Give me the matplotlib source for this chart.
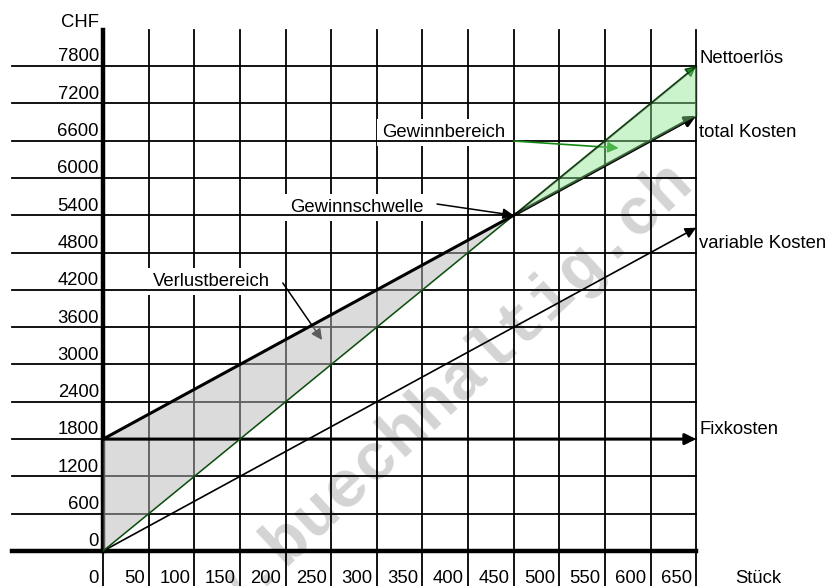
import matplotlib
matplotlib.use('Agg')
import matplotlib.pyplot as plt
import numpy as np

# --- data -----------------------------------------------------------------
units = [0, 450, 650]                 # Stück
revenue = [0, 5400, 7800]             # Nettoerlös
total_cost = [1800, 5400, 7000]       # total Kosten
variable_cost = [0, 3600, 5200]       # variable Kosten
fixed_cost = [1800, 1800, 1800]       # Fixkosten

x_ticks = list(range(0, 651, 50))
y_ticks = list(range(0, 7801, 600))

plt.rcParams['font.family'] = ['Liberation Sans', 'DejaVu Sans']
FS = 13.3

fig = plt.figure(figsize=(8.33, 5.86), dpi=100)
ax = fig.add_axes([0, 0, 1, 1])
ax.set_xlim(-113, 800)
ax.set_ylim(-563, 8863)
ax.axis('off')

# --- grid -------------------------------------------------------------------
for xv in x_ticks[1:]:
    ax.plot([xv, xv], [-563, 8380], color='black', lw=1.3, zorder=1)
ax.plot([0, 0], [-563, 0], color='black', lw=1.3, zorder=1)
ax.plot([0, 0], [0, 8380], color='black', lw=3.2, zorder=3)

for yv in y_ticks[1:]:
    ax.plot([-100, 650], [yv, yv], color='black', lw=1.3, zorder=2)
ax.plot([-100, 650], [0, 0], color='black', lw=3.2, zorder=3)

# --- tick labels ------------------------------------------------------------
for xv in x_ticks:
    ax.text(xv - 4.5, -515, str(xv), ha='right', va='baseline', fontsize=FS)
for yv in y_ticks:
    ax.text(-4.5, yv + 75, str(yv), ha='right', va='baseline', fontsize=FS)
ax.text(-4.5, 8428, 'CHF', ha='right', va='baseline', fontsize=FS)
ax.text(693, -515, 'Stück', ha='left', va='baseline', fontsize=FS)

# --- watermark (runs off the lower edge like in the original) ---------------
ax.text(348, 2107, 'www.buechhaltig.ch', rotation=43, rotation_mode='anchor',
        ha='center', va='center', fontsize=48, family='Liberation Mono',
        weight='bold', color='#d4d4d4', zorder=0.5)

# --- shaded areas -----------------------------------------------------------
ax.fill_between(units[:2], revenue[:2], total_cost[:2], color='#b8b8b8',
                alpha=0.5, lw=0, zorder=4)

# --- cost / revenue lines ---------------------------------------------------
def arrow(xs, ys, color, lw, head='black', z=5):
    ax.annotate('', xy=(xs[-1], ys[-1]), xytext=(xs[0], ys[0]),
                arrowprops=dict(arrowstyle='-|>', color=color, lw=lw,
                                fc=head, ec=color, mutation_scale=16,
                                shrinkA=0, shrinkB=0),
                zorder=z)

arrow(units, fixed_cost, 'black', 2.2)
arrow(units, variable_cost, 'black', 1.2)
arrow(units, revenue, '#0b4d0b', 1.1, head='#1f8f1f')
arrow(units, total_cost, 'black', 2.2)

# profit area on top, with its black outline
ax.fill_between(units[1:], total_cost[1:], revenue[1:], color='#8ee88e',
                alpha=0.45, edgecolor='black', lw=1, zorder=5.5)

# --- labels on the right ----------------------------------------------------
ax.text(653.5, 7849, 'Nettoerlös', va='baseline', fontsize=FS)
ax.text(653.5, 6659, 'total Kosten', va='baseline', fontsize=FS)
ax.text(653.5, 4874, 'variable Kosten', va='baseline', fontsize=FS)
ax.text(653.5, 1882, 'Fixkosten', va='baseline', fontsize=FS)

# --- annotations ------------------------------------------------------------
box = dict(boxstyle='square,pad=0.28', fc='white', ec='none')
ax.text(306, 6659, 'Gewinnbereich', va='baseline', fontsize=FS,
        bbox=box, zorder=1.5)
ax.text(205, 5453, 'Gewinnschwelle', va='baseline', fontsize=FS,
        bbox=box, zorder=1.5)
ax.text(55, 4262, 'Verlustbereich', va='baseline', fontsize=FS,
        bbox=box, zorder=1.5)

ax.annotate('', xy=(565, 6482), xytext=(450, 6595),
            arrowprops=dict(arrowstyle='-|>', color='#138a13', lw=1.2,
                            mutation_scale=16, shrinkA=0, shrinkB=0),
            zorder=3.5)
ax.annotate('', xy=(450, 5400), xytext=(366, 5581),
            arrowprops=dict(arrowstyle='-|>', color='black', lw=1.1,
                            mutation_scale=16, shrinkA=0, shrinkB=0),
            zorder=6)
ax.annotate('', xy=(240, 3394), xytext=(197, 4311),
            arrowprops=dict(arrowstyle='-|>', color='black', lw=1.1,
                            mutation_scale=16, shrinkA=0, shrinkB=0),
            zorder=3.5)

fig.savefig('out.png', dpi=100, facecolor='white')
